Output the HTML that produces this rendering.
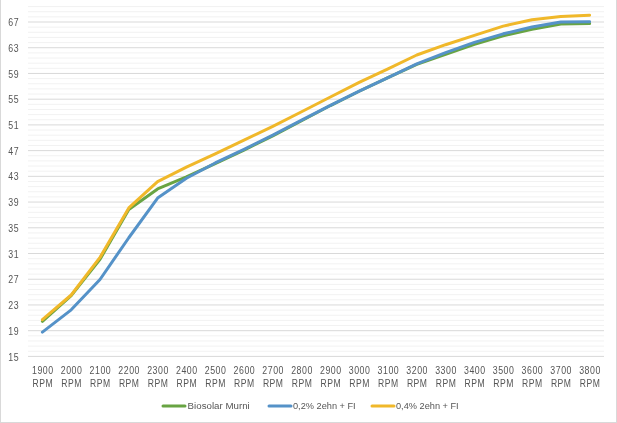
<!DOCTYPE html><html><head><meta charset="utf-8"><style>html,body{margin:0;padding:0;background:#fff;}svg{display:block;will-change:transform;}text{font-family:"Liberation Sans",sans-serif;fill:#555555;}.ax{letter-spacing:0.6px;}</style></head><body>
<svg width="617" height="423" viewBox="0 0 617 423">
<rect x="0" y="0" width="617" height="423" fill="#fff"/>
<rect x="0" y="0" width="1" height="423" fill="#d9d9d9"/>
<rect x="616" y="0" width="1" height="423" fill="#d9d9d9"/>
<rect x="0" y="422" width="617" height="1" fill="#d9d9d9"/>
<rect x="28" y="355.90" width="576" height="1" fill="#d9d9d9"/>
<rect x="28" y="350.76" width="576" height="1" fill="#f2f2f2"/>
<rect x="28" y="345.61" width="576" height="1" fill="#f2f2f2"/>
<rect x="28" y="340.47" width="576" height="1" fill="#f2f2f2"/>
<rect x="28" y="335.32" width="576" height="1" fill="#f2f2f2"/>
<rect x="28" y="330.18" width="576" height="1" fill="#d9d9d9"/>
<rect x="28" y="325.03" width="576" height="1" fill="#f2f2f2"/>
<rect x="28" y="319.89" width="576" height="1" fill="#f2f2f2"/>
<rect x="28" y="314.74" width="576" height="1" fill="#f2f2f2"/>
<rect x="28" y="309.60" width="576" height="1" fill="#f2f2f2"/>
<rect x="28" y="304.45" width="576" height="1" fill="#d9d9d9"/>
<rect x="28" y="299.31" width="576" height="1" fill="#f2f2f2"/>
<rect x="28" y="294.16" width="576" height="1" fill="#f2f2f2"/>
<rect x="28" y="289.02" width="576" height="1" fill="#f2f2f2"/>
<rect x="28" y="283.88" width="576" height="1" fill="#f2f2f2"/>
<rect x="28" y="278.73" width="576" height="1" fill="#d9d9d9"/>
<rect x="28" y="273.59" width="576" height="1" fill="#f2f2f2"/>
<rect x="28" y="268.44" width="576" height="1" fill="#f2f2f2"/>
<rect x="28" y="263.30" width="576" height="1" fill="#f2f2f2"/>
<rect x="28" y="258.15" width="576" height="1" fill="#f2f2f2"/>
<rect x="28" y="253.01" width="576" height="1" fill="#d9d9d9"/>
<rect x="28" y="247.86" width="576" height="1" fill="#f2f2f2"/>
<rect x="28" y="242.72" width="576" height="1" fill="#f2f2f2"/>
<rect x="28" y="237.57" width="576" height="1" fill="#f2f2f2"/>
<rect x="28" y="232.43" width="576" height="1" fill="#f2f2f2"/>
<rect x="28" y="227.28" width="576" height="1" fill="#d9d9d9"/>
<rect x="28" y="222.14" width="576" height="1" fill="#f2f2f2"/>
<rect x="28" y="217.00" width="576" height="1" fill="#f2f2f2"/>
<rect x="28" y="211.85" width="576" height="1" fill="#f2f2f2"/>
<rect x="28" y="206.71" width="576" height="1" fill="#f2f2f2"/>
<rect x="28" y="201.56" width="576" height="1" fill="#d9d9d9"/>
<rect x="28" y="196.42" width="576" height="1" fill="#f2f2f2"/>
<rect x="28" y="191.27" width="576" height="1" fill="#f2f2f2"/>
<rect x="28" y="186.13" width="576" height="1" fill="#f2f2f2"/>
<rect x="28" y="180.98" width="576" height="1" fill="#f2f2f2"/>
<rect x="28" y="175.84" width="576" height="1" fill="#d9d9d9"/>
<rect x="28" y="170.69" width="576" height="1" fill="#f2f2f2"/>
<rect x="28" y="165.55" width="576" height="1" fill="#f2f2f2"/>
<rect x="28" y="160.40" width="576" height="1" fill="#f2f2f2"/>
<rect x="28" y="155.26" width="576" height="1" fill="#f2f2f2"/>
<rect x="28" y="150.12" width="576" height="1" fill="#d9d9d9"/>
<rect x="28" y="144.97" width="576" height="1" fill="#f2f2f2"/>
<rect x="28" y="139.83" width="576" height="1" fill="#f2f2f2"/>
<rect x="28" y="134.68" width="576" height="1" fill="#f2f2f2"/>
<rect x="28" y="129.54" width="576" height="1" fill="#f2f2f2"/>
<rect x="28" y="124.39" width="576" height="1" fill="#d9d9d9"/>
<rect x="28" y="119.25" width="576" height="1" fill="#f2f2f2"/>
<rect x="28" y="114.10" width="576" height="1" fill="#f2f2f2"/>
<rect x="28" y="108.96" width="576" height="1" fill="#f2f2f2"/>
<rect x="28" y="103.81" width="576" height="1" fill="#f2f2f2"/>
<rect x="28" y="98.67" width="576" height="1" fill="#d9d9d9"/>
<rect x="28" y="93.52" width="576" height="1" fill="#f2f2f2"/>
<rect x="28" y="88.38" width="576" height="1" fill="#f2f2f2"/>
<rect x="28" y="83.24" width="576" height="1" fill="#f2f2f2"/>
<rect x="28" y="78.09" width="576" height="1" fill="#f2f2f2"/>
<rect x="28" y="72.95" width="576" height="1" fill="#d9d9d9"/>
<rect x="28" y="67.80" width="576" height="1" fill="#f2f2f2"/>
<rect x="28" y="62.66" width="576" height="1" fill="#f2f2f2"/>
<rect x="28" y="57.51" width="576" height="1" fill="#f2f2f2"/>
<rect x="28" y="52.37" width="576" height="1" fill="#f2f2f2"/>
<rect x="28" y="47.22" width="576" height="1" fill="#d9d9d9"/>
<rect x="28" y="42.08" width="576" height="1" fill="#f2f2f2"/>
<rect x="28" y="36.93" width="576" height="1" fill="#f2f2f2"/>
<rect x="28" y="31.79" width="576" height="1" fill="#f2f2f2"/>
<rect x="28" y="26.64" width="576" height="1" fill="#f2f2f2"/>
<rect x="28" y="21.50" width="576" height="1" fill="#d9d9d9"/>
<rect x="28" y="16.36" width="576" height="1" fill="#f2f2f2"/>
<rect x="28" y="11.21" width="576" height="1" fill="#f2f2f2"/>
<rect x="28" y="6.07" width="576" height="1" fill="#f2f2f2"/>
<text transform="translate(19.2,360.50) scale(0.88,1)" font-size="10" class="ax" text-anchor="end">15</text>
<text transform="translate(19.2,334.78) scale(0.88,1)" font-size="10" class="ax" text-anchor="end">19</text>
<text transform="translate(19.2,309.05) scale(0.88,1)" font-size="10" class="ax" text-anchor="end">23</text>
<text transform="translate(19.2,283.33) scale(0.88,1)" font-size="10" class="ax" text-anchor="end">27</text>
<text transform="translate(19.2,257.61) scale(0.88,1)" font-size="10" class="ax" text-anchor="end">31</text>
<text transform="translate(19.2,231.88) scale(0.88,1)" font-size="10" class="ax" text-anchor="end">35</text>
<text transform="translate(19.2,206.16) scale(0.88,1)" font-size="10" class="ax" text-anchor="end">39</text>
<text transform="translate(19.2,180.44) scale(0.88,1)" font-size="10" class="ax" text-anchor="end">43</text>
<text transform="translate(19.2,154.72) scale(0.88,1)" font-size="10" class="ax" text-anchor="end">47</text>
<text transform="translate(19.2,128.99) scale(0.88,1)" font-size="10" class="ax" text-anchor="end">51</text>
<text transform="translate(19.2,103.27) scale(0.88,1)" font-size="10" class="ax" text-anchor="end">55</text>
<text transform="translate(19.2,77.55) scale(0.88,1)" font-size="10" class="ax" text-anchor="end">59</text>
<text transform="translate(19.2,51.82) scale(0.88,1)" font-size="10" class="ax" text-anchor="end">63</text>
<text transform="translate(19.2,26.10) scale(0.88,1)" font-size="10" class="ax" text-anchor="end">67</text>
<text transform="translate(42.80,373.6) scale(0.88,1)" font-size="10" class="ax" text-anchor="middle">1900</text>
<text transform="translate(42.80,386.5) scale(0.86,1)" font-size="10" class="ax" text-anchor="middle">RPM</text>
<text transform="translate(71.60,373.6) scale(0.88,1)" font-size="10" class="ax" text-anchor="middle">2000</text>
<text transform="translate(71.60,386.5) scale(0.86,1)" font-size="10" class="ax" text-anchor="middle">RPM</text>
<text transform="translate(100.40,373.6) scale(0.88,1)" font-size="10" class="ax" text-anchor="middle">2100</text>
<text transform="translate(100.40,386.5) scale(0.86,1)" font-size="10" class="ax" text-anchor="middle">RPM</text>
<text transform="translate(129.20,373.6) scale(0.88,1)" font-size="10" class="ax" text-anchor="middle">2200</text>
<text transform="translate(129.20,386.5) scale(0.86,1)" font-size="10" class="ax" text-anchor="middle">RPM</text>
<text transform="translate(158.00,373.6) scale(0.88,1)" font-size="10" class="ax" text-anchor="middle">2300</text>
<text transform="translate(158.00,386.5) scale(0.86,1)" font-size="10" class="ax" text-anchor="middle">RPM</text>
<text transform="translate(186.80,373.6) scale(0.88,1)" font-size="10" class="ax" text-anchor="middle">2400</text>
<text transform="translate(186.80,386.5) scale(0.86,1)" font-size="10" class="ax" text-anchor="middle">RPM</text>
<text transform="translate(215.60,373.6) scale(0.88,1)" font-size="10" class="ax" text-anchor="middle">2500</text>
<text transform="translate(215.60,386.5) scale(0.86,1)" font-size="10" class="ax" text-anchor="middle">RPM</text>
<text transform="translate(244.40,373.6) scale(0.88,1)" font-size="10" class="ax" text-anchor="middle">2600</text>
<text transform="translate(244.40,386.5) scale(0.86,1)" font-size="10" class="ax" text-anchor="middle">RPM</text>
<text transform="translate(273.20,373.6) scale(0.88,1)" font-size="10" class="ax" text-anchor="middle">2700</text>
<text transform="translate(273.20,386.5) scale(0.86,1)" font-size="10" class="ax" text-anchor="middle">RPM</text>
<text transform="translate(302.00,373.6) scale(0.88,1)" font-size="10" class="ax" text-anchor="middle">2800</text>
<text transform="translate(302.00,386.5) scale(0.86,1)" font-size="10" class="ax" text-anchor="middle">RPM</text>
<text transform="translate(330.80,373.6) scale(0.88,1)" font-size="10" class="ax" text-anchor="middle">2900</text>
<text transform="translate(330.80,386.5) scale(0.86,1)" font-size="10" class="ax" text-anchor="middle">RPM</text>
<text transform="translate(359.60,373.6) scale(0.88,1)" font-size="10" class="ax" text-anchor="middle">3000</text>
<text transform="translate(359.60,386.5) scale(0.86,1)" font-size="10" class="ax" text-anchor="middle">RPM</text>
<text transform="translate(388.40,373.6) scale(0.88,1)" font-size="10" class="ax" text-anchor="middle">3100</text>
<text transform="translate(388.40,386.5) scale(0.86,1)" font-size="10" class="ax" text-anchor="middle">RPM</text>
<text transform="translate(417.20,373.6) scale(0.88,1)" font-size="10" class="ax" text-anchor="middle">3200</text>
<text transform="translate(417.20,386.5) scale(0.86,1)" font-size="10" class="ax" text-anchor="middle">RPM</text>
<text transform="translate(446.00,373.6) scale(0.88,1)" font-size="10" class="ax" text-anchor="middle">3300</text>
<text transform="translate(446.00,386.5) scale(0.86,1)" font-size="10" class="ax" text-anchor="middle">RPM</text>
<text transform="translate(474.80,373.6) scale(0.88,1)" font-size="10" class="ax" text-anchor="middle">3400</text>
<text transform="translate(474.80,386.5) scale(0.86,1)" font-size="10" class="ax" text-anchor="middle">RPM</text>
<text transform="translate(503.60,373.6) scale(0.88,1)" font-size="10" class="ax" text-anchor="middle">3500</text>
<text transform="translate(503.60,386.5) scale(0.86,1)" font-size="10" class="ax" text-anchor="middle">RPM</text>
<text transform="translate(532.40,373.6) scale(0.88,1)" font-size="10" class="ax" text-anchor="middle">3600</text>
<text transform="translate(532.40,386.5) scale(0.86,1)" font-size="10" class="ax" text-anchor="middle">RPM</text>
<text transform="translate(561.20,373.6) scale(0.88,1)" font-size="10" class="ax" text-anchor="middle">3700</text>
<text transform="translate(561.20,386.5) scale(0.86,1)" font-size="10" class="ax" text-anchor="middle">RPM</text>
<text transform="translate(590.00,373.6) scale(0.88,1)" font-size="10" class="ax" text-anchor="middle">3800</text>
<text transform="translate(590.00,386.5) scale(0.86,1)" font-size="10" class="ax" text-anchor="middle">RPM</text>
<polyline points="42.40,321.35 71.20,295.63 100.00,259.30 128.80,209.46 157.60,188.94 186.40,176.98 215.20,163.61 244.00,150.10 272.80,135.82 301.60,120.71 330.40,105.54 359.20,91.26 388.00,77.63 416.80,64.44 445.60,54.28 474.40,44.25 503.20,35.76 532.00,29.27 560.80,23.93 589.60,23.61" fill="none" stroke="#68a443" stroke-width="3" stroke-linejoin="round" stroke-linecap="round"/>
<polyline points="42.40,332.16 71.20,309.84 100.00,279.49 128.80,237.75 157.60,198.07 186.40,178.27 215.20,162.96 244.00,149.33 272.80,135.05 301.60,120.07 330.40,105.41 359.20,91.13 388.00,77.63 416.80,63.80 445.60,52.67 474.40,42.32 503.20,33.83 532.00,27.02 560.80,22.00 589.60,21.68" fill="none" stroke="#5592c8" stroke-width="3" stroke-linejoin="round" stroke-linecap="round"/>
<polyline points="42.40,319.68 71.20,294.99 100.00,257.37 128.80,207.98 157.60,181.68 186.40,167.21 215.20,153.83 244.00,140.20 272.80,126.31 301.60,111.77 330.40,96.98 359.20,82.45 388.00,68.88 416.80,54.99 445.60,44.70 474.40,35.38 503.20,26.12 532.00,19.75 560.80,16.53 589.60,15.25" fill="none" stroke="#f0b82a" stroke-width="3" stroke-linejoin="round" stroke-linecap="round"/>
<line x1="163" y1="406" x2="185" y2="406" stroke="#68a443" stroke-width="3" stroke-linecap="round"/>
<text transform="translate(187.6,408.6) scale(1.025,1)" font-size="9.5">Biosolar Murni</text>
<line x1="269" y1="406" x2="291" y2="406" stroke="#5592c8" stroke-width="3" stroke-linecap="round"/>
<text transform="translate(293.0,408.6) scale(0.97,1)" font-size="9.5">0,2% 2ehn + FI</text>
<line x1="372" y1="406" x2="394" y2="406" stroke="#f0b82a" stroke-width="3" stroke-linecap="round"/>
<text transform="translate(396.0,408.6) scale(0.97,1)" font-size="9.5">0,4% 2ehn + FI</text>
</svg></body></html>
